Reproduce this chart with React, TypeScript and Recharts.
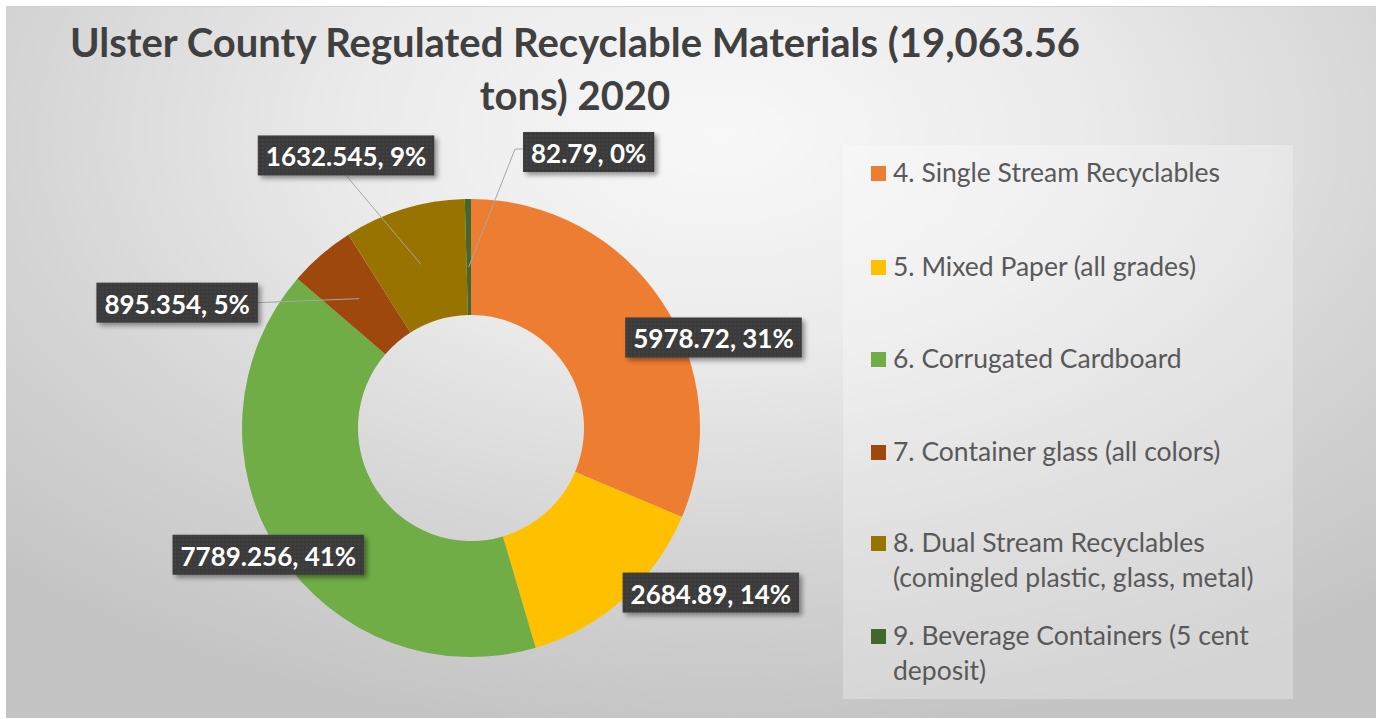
import React from "react";
import { PieChart, Pie, Cell, Legend } from "recharts";

const CATEGORIES = [
  "4. Single Stream Recyclables",
  "5. Mixed Paper (all grades)",
  "6. Corrugated Cardboard",
  "7. Container glass (all colors)",
  "8. Dual Stream Recyclables (comingled plastic, glass, metal)",
  "9. Beverage Containers (5 cent deposit)",
];

const TONS = [5978.72, 2684.89, 7789.256, 895.354, 1632.545, 82.79];

const COLORS = ["#ED7D31", "#FFC000", "#70AD47", "#9E480E", "#997300", "#43682B"];

const TITLE_LINES = ["Ulster County Regulated Recyclable Materials (19,063.56", "tons) 2020"];

// where each data label sits relative to the middle of its slice
const LABEL_PLACEMENT = [
  { dx: 100, dy: 4, leader: "none" },
  { dx: 126, dy: 37, leader: "none" },
  { dx: -59, dy: 34, leader: "none" },
  { dx: -182, dy: 4, leader: "right" },
  { dx: -75, dy: -109, leader: "bottom" },
  { dx: 120, dy: -105, leader: "elbow" },
];

const LEGEND_ROW_TOP = [10, 104, 196, 289, 380, 473];

const data = CATEGORIES.map((name, i) => ({ name, value: TONS[i] }));

const RADIAN = Math.PI / 180;
const LABEL_FONT = "bold 26px Lato";
let ctx: CanvasRenderingContext2D | null = null;
function textWidth(text: string) {
  if (!ctx) ctx = document.createElement("canvas").getContext("2d");
  if (!ctx) return text.length * 13;
  ctx.font = LABEL_FONT;
  return ctx.measureText(text).width;
}

function renderLabel(props: any) {
  const { cx, cy, midAngle, innerRadius, outerRadius, value, percent, index } = props;
  const place = LABEL_PLACEMENT[index];
  const r = (innerRadius + outerRadius) / 2;
  const ax = cx + r * Math.cos(-midAngle * RADIAN);
  const ay = cy + r * Math.sin(-midAngle * RADIAN);
  const bx = ax + place.dx;
  const by = ay + place.dy;
  const text = `${value}, ${Math.round(percent * 100)}%`;
  const w = textWidth(text) + 16;
  const h = 40;
  let line = null;
  if (place.leader === "right") {
    line = <polyline points={`${ax},${ay} ${bx + w / 2},${by}`} fill="none" stroke="#a6a6a6" strokeWidth={1} />;
  } else if (place.leader === "bottom") {
    line = <polyline points={`${ax},${ay} ${bx},${by + h / 2}`} fill="none" stroke="#a6a6a6" strokeWidth={1} />;
  } else if (place.leader === "elbow") {
    const ex = bx - w / 2 - 8;
    line = (
      <polyline
        points={`${ax},${ay + 10} ${ex},${by - 3} ${bx - w / 2},${by - 3}`}
        fill="none"
        stroke="#a6a6a6"
        strokeWidth={1}
      />
    );
  }
  return (
    <g key={`lbl-${index}`}>
      {line}
      <rect x={bx - w / 2} y={by - h / 2} width={w} height={h} fill="url(#lblDots)" filter="url(#lblShadow)" />
      <text
        x={bx}
        y={by + 1}
        textAnchor="middle"
        dominantBaseline="central"
        fill="#ffffff"
        fontFamily="Lato"
        fontWeight="bold"
        fontSize={26}
      >
        {text}
      </text>
    </g>
  );
}

function renderLegend() {
  return (
    <div
      style={{
        position: "relative",
        width: 450,
        height: 554,
        background: "rgba(255,255,255,0.28)",
        fontFamily: "Lato",
        fontSize: 26.5,
        color: "#595959",
      }}
    >
      {CATEGORIES.map((name, i) => (
        <div
          key={name}
          style={{ position: "absolute", left: 28, top: LEGEND_ROW_TOP[i], display: "flex", alignItems: "flex-start" }}
        >
          <div style={{ width: 15, height: 15, background: COLORS[i], marginTop: 11, marginRight: 7 }} />
          <div style={{ width: 395, lineHeight: "35px" }}>{name}</div>
        </div>
      ))}
    </div>
  );
}

export default function App() {
  return (
    <div
      style={{
        position: "absolute",
        left: 6,
        top: 6,
        width: 1370,
        height: 712,
        background: "radial-gradient(ellipse 75% 85% at 52% 18%, #f8f8f8 0%, #ebebeb 35%, #d4d4d4 70%, #c4c4c4 100%)",
        borderTop: "1px solid #d0d0d0",
        boxSizing: "border-box",
      }}
    >
      <svg width={0} height={0} style={{ position: "absolute" }}>
        <defs>
          <pattern id="lblDots" width={4} height={4} patternUnits="userSpaceOnUse">
            <rect width={4} height={4} fill="#3a3a3a" />
            <circle cx={1} cy={1} r={0.7} fill="#505050" />
          </pattern>
          <filter id="lblShadow" x="-20%" y="-30%" width="150%" height="190%">
            <feDropShadow dx={3} dy={3} stdDeviation={2.5} floodColor="#000" floodOpacity={0.4} />
          </filter>
        </defs>
      </svg>
      <div
        style={{
          position: "absolute",
          left: 0,
          top: 9,
          width: 1138,
          textAlign: "center",
          fontFamily: "Lato",
          fontWeight: "bold",
          fontSize: 40,
          lineHeight: "53px",
          color: "#404040",
          zIndex: 2,
        }}
      >
        {TITLE_LINES.map((t) => (
          <div key={t}>{t}</div>
        ))}
      </div>
      <PieChart width={1370} height={712} margin={{ top: 0, right: 0, bottom: 0, left: 0 }}>
        <Pie
          data={data}
          dataKey="value"
          nameKey="name"
          cx={465}
          cy={421}
          innerRadius={113}
          outerRadius={229}
          startAngle={90}
          endAngle={-270}
          stroke="none"
          labelLine={false}
          label={renderLabel}
          isAnimationActive={false}
        >
          {data.map((d, i) => (
            <Cell key={d.name} fill={COLORS[i]} />
          ))}
        </Pie>
        <Legend
          layout="vertical"
          align="right"
          verticalAlign="top"
          content={renderLegend}
          wrapperStyle={{ left: 837, top: 138, width: 450, height: 554, margin: 0 }}
        />
      </PieChart>
    </div>
  );
}
